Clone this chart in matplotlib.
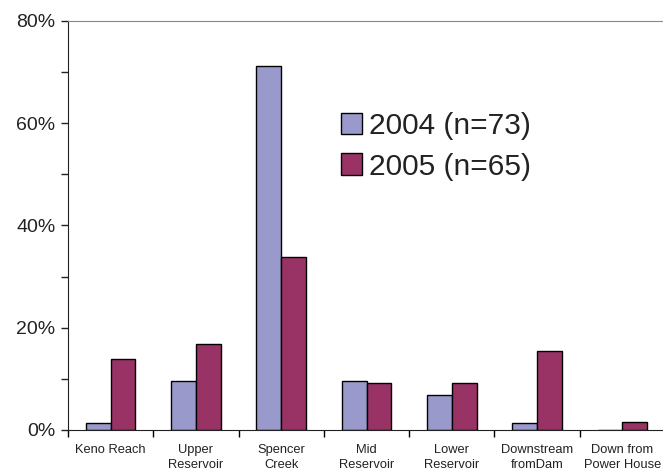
import matplotlib
matplotlib.use("Agg")
import matplotlib.pyplot as plt
import numpy as np
from matplotlib.ticker import MultipleLocator, FuncFormatter

plt.rcParams['font.family'] = ['Liberation Sans', 'DejaVu Sans']

categories = ["Keno Reach", "Upper\nReservoir", "Spencer\nCreek", "Mid\nReservoir",
              "Lower\nReservoir", "Downstream\nfromDam", "Down from\nPower House"]
pct_2004 = [1.4, 9.6, 71.2, 9.6, 6.8, 1.4, 0.0]
pct_2005 = [13.8, 16.9, 33.8, 9.2, 9.2, 15.4, 1.5]
labels = ["2004 (n=73)", "2005 (n=65)"]
colors = ["#9999CC", "#993366"]

fig = plt.figure(figsize=(6.63, 4.70), dpi=100)
ax = fig.add_axes([68/663, 40/470, 597/663, 409/470])

x = np.arange(len(categories))
w = 0.29
ax.bar(x - w/2, pct_2004, w, color=colors[0], edgecolor="black", linewidth=1.0, label=labels[0])
ax.bar(x + w/2, pct_2005, w, color=colors[1], edgecolor="black", linewidth=1.0, label=labels[1])

ax.set_xlim(-0.5, len(categories) - 0.5)
ax.set_ylim(0, 80)
ax.yaxis.set_major_locator(MultipleLocator(20))
ax.yaxis.set_minor_locator(MultipleLocator(10))
ax.yaxis.set_major_formatter(FuncFormatter(lambda v, p: f"{v:.0f}%"))
ax.tick_params(axis="y", which="both", direction="out", length=5, width=1, labelsize=14, pad=4,
               colors="#222222")
ax.set_xticks(np.arange(len(categories) + 1) - 0.5, minor=False)
ax.set_xticklabels([])
ax.set_xticks(x, minor=True)
ax.set_xticklabels(categories, minor=True, fontsize=9.3, linespacing=1.3, color="#222222")
ax.tick_params(axis="x", which="major", direction="out", length=5, width=1)
ax.tick_params(axis="x", which="minor", length=0, pad=10)

ax.spines["right"].set_visible(False)
ax.spines["top"].set_color("#888888")
ax.spines["left"].set_color("#222222")
ax.spines["bottom"].set_color("#222222")

leg = ax.legend(loc="upper left", bbox_to_anchor=(341/663, 1 - 112/470), bbox_transform=fig.transFigure,
                frameon=False, fontsize=21.5,
                handlelength=0.72, handleheight=0.72, handletextpad=0.22, labelspacing=0.42,
                borderaxespad=0, borderpad=0)
for t in leg.get_texts():
    t.set_color("#222222")

fig.savefig("out.png", dpi=100)
